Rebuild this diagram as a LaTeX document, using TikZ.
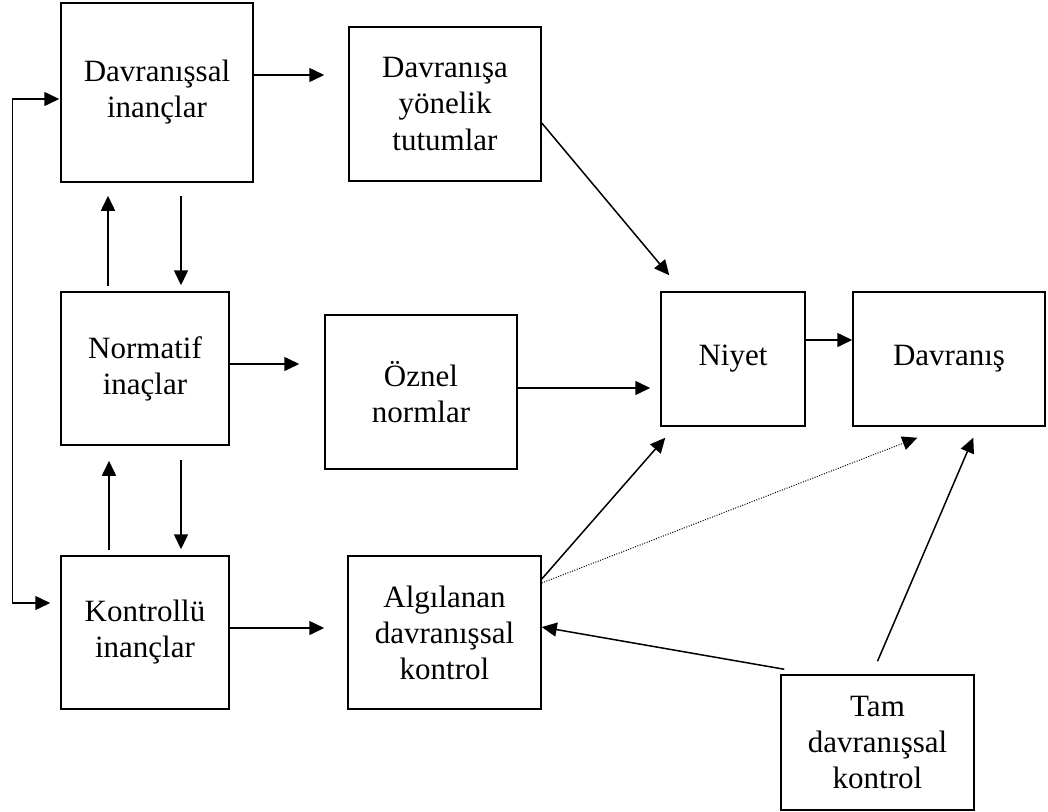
\documentclass[tikz,border=0pt]{standalone}
\usepackage{fontspec}
\setmainfont{Liberation Serif}
\usetikzlibrary{arrows.meta,calc}
\begin{document}
\begin{tikzpicture}[x=1pt,y=-1pt,
  >={Triangle[length=15pt,width=14pt]},
  box/.style={draw, line width=1.5pt, inner sep=0pt, align=center,
    font=\fontsize{31}{36}\selectfont},
  arr/.style={line width=1.5pt, ->},
  dotarr/.style={line width=1pt, dash pattern=on 1pt off 1.5pt, ->}]
\useasboundingbox (0,0) rectangle (1048,811);

\node[box, minimum width=192pt, minimum height=179pt] (b1) at (157,92.5) {Davranışsal\\inançlar};
\node[box, minimum width=192pt, minimum height=154pt] (b2) at (445,104) {Davranışa\\yönelik\\tutumlar};
\node[box, minimum width=168pt, minimum height=153pt] (nm) at (145,368.5) {Normatif\\inaçlar};
\node[box, minimum width=192pt, minimum height=154pt] (oz) at (421,392) {Öznel\\normlar};
\node[box, minimum width=168pt, minimum height=153pt] (ko) at (145,632.5) {Kontrollü\\inançlar};
\node[box, minimum width=193pt, minimum height=153pt] (al) at (444.5,632.5) {Algılanan\\davranışsal\\kontrol};
\node[box, minimum width=144pt, minimum height=134pt] (ni) at (733,359) {Niyet};
\node[box, minimum width=192pt, minimum height=134pt] (dv) at (949,359) {Davranış};
\node[box, minimum width=193pt, minimum height=135pt] (tm) at (877.5,742.5) {Tam\\davranışsal\\kontrol};

% horizontal arrows
\draw[arr, shorten >=24pt] (b1.east |- 0,75) -- (b2.west |- 0,75);
\draw[arr, shorten >=25pt] (nm.east |- 0,364) -- (oz.west |- 0,364);
\draw[arr, shorten >=23pt] (ko.east |- 0,628) -- (al.west |- 0,628);
\draw[arr, shorten >=10pt] (oz.east |- 0,388) -- (ni.west |- 0,388);
\draw[arr] (ni.east |- 0,340) -- (dv.west |- 0,340);

% vertical arrows in left column
\draw[arr, shorten <=5pt, shorten >=13pt] (nm.north -| 108,0) -- (b1.south -| 108,0);
\draw[arr, shorten <=13pt, shorten >=6pt] (b1.south -| 181,0) -- (nm.north -| 181,0);
\draw[arr, shorten <=5pt, shorten >=15pt] (ko.north -| 109,0) -- (nm.south -| 109,0);
\draw[arr, shorten <=14pt, shorten >=6pt] (nm.south -| 181,0) -- (ko.north -| 181,0);

% feedback connector
\draw[line width=1.5pt, <->, shorten <=1pt, shorten >=10pt]
  (b1.west |- 0,99) -- ++(-48,0) |- (ko.west |- 0,603);

% diagonal arrows
\draw[arr] (b2.east |- 0,123) -- ($(ni.north west)+(9,-16)$);
\draw[arr] (al.east |- 0,579) -- ($(ni.south west)+(5,11)$);
\draw[dotarr] (al.east |- 0,583) -- ($(dv.south west)+(65,11)$);
\draw[arr] ($(tm.north west)+(4,-5)$) -- (al.east |- 0,627);
\draw[arr] ($(tm.north)+(0,-13)$) -- ($(dv.south west)+(121,11)$);
\end{tikzpicture}
\end{document}
